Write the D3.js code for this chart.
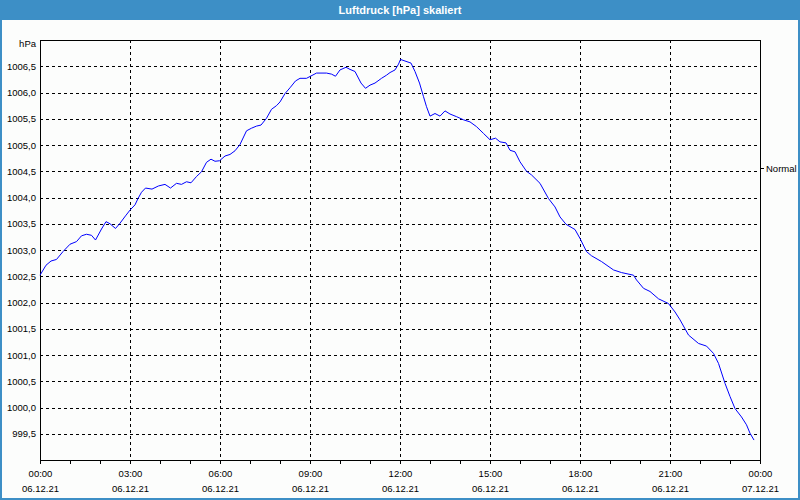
<!DOCTYPE html>
<html>
<head>
<meta charset="utf-8">
<script src="https://cdn.jsdelivr.net/npm/d3@7"></script>
<style>
  html, body { margin: 0; padding: 0; background: #fcfdfc; }
  svg { display: block; }
  text { font-family: "Liberation Sans", Arial, sans-serif; }
</style>
</head>
<body>
<svg id="chart" width="800" height="500"></svg>
<script>
// ---- Data ----
const chartTitle = "Luftdruck [hPa] skaliert";
const unitLabel = "hPa";
const seriesName = "Normal";
const day = "2021-12-06";
const times = ["00:00","00:12","00:22","00:33","00:46","01:00","01:13","01:23","01:33","01:43","01:51","02:03","02:12","02:20","02:31","02:40","02:51","03:00","03:10","03:16","03:23","03:31","03:44","03:57","04:10","04:21","04:33","04:43","04:53","05:02","05:13","05:23","05:33","05:42","05:50","05:59","06:10","06:20","06:30","06:40","06:53","07:03","07:13","07:22","07:33","07:43","07:53","08:00","08:10","08:20","08:31","08:40","08:53","09:13","09:33","09:43","09:51","10:00","10:12","10:20","10:30","10:42","10:51","11:00","11:10","11:23","11:33","11:40","11:50","11:57","12:01","12:10","12:22","12:30","12:39","12:47","12:53","13:00","13:10","13:20","13:30","13:40","13:53","14:07","14:20","14:33","14:47","15:00","15:11","15:20","15:32","15:40","15:50","16:00","16:13","16:23","16:40","16:57","17:10","17:20","17:32","17:50","18:00","18:13","18:23","18:43","19:07","19:23","19:47","19:53","20:07","20:20","20:37","20:57","21:10","21:20","21:37","21:57","22:13","22:27","22:37","22:50","23:00","23:10","23:23","23:33","23:40","23:48"];
const pressure = [1002.52,1002.71,1002.79,1002.82,1002.97,1003.11,1003.16,1003.27,1003.30,1003.28,1003.19,1003.40,1003.54,1003.50,1003.41,1003.51,1003.65,1003.76,1003.86,1003.98,1004.10,1004.18,1004.16,1004.22,1004.25,1004.18,1004.27,1004.25,1004.30,1004.28,1004.40,1004.49,1004.67,1004.73,1004.69,1004.70,1004.79,1004.82,1004.89,1005.01,1005.27,1005.32,1005.36,1005.38,1005.51,1005.68,1005.75,1005.82,1005.98,1006.09,1006.22,1006.27,1006.27,1006.37,1006.37,1006.35,1006.31,1006.43,1006.48,1006.44,1006.40,1006.18,1006.08,1006.14,1006.18,1006.27,1006.33,1006.38,1006.43,1006.54,1006.63,1006.60,1006.56,1006.40,1006.18,1005.92,1005.73,1005.55,1005.60,1005.55,1005.65,1005.59,1005.54,1005.48,1005.44,1005.35,1005.22,1005.10,1005.13,1005.06,1005.04,1004.90,1004.87,1004.68,1004.50,1004.43,1004.27,1003.98,1003.82,1003.63,1003.49,1003.39,1003.22,1002.97,1002.89,1002.78,1002.62,1002.57,1002.52,1002.43,1002.27,1002.21,1002.07,1001.98,1001.82,1001.67,1001.38,1001.22,1001.17,1001.03,1000.84,1000.46,1000.21,999.98,999.82,999.67,999.51,999.38];
const yTicks = [999.5,1000.0,1000.5,1001.0,1001.5,1002.0,1002.5,1003.0,1003.5,1004.0,1004.5,1005.0,1005.5,1006.0,1006.5];
const yDomain = [999.0, 1007.0];
const xDomain = ["2021-12-06T00:00", "2021-12-07T00:00"];

// ---- Layout ----
const W = 800, H = 500;
const M = {left: 40, right: 760, top: 40, bottom: 460};
const blue = "#3d8fc6";

const svg = d3.select("#chart");
const parse = d3.timeParse("%Y-%m-%dT%H:%M");
const data = times.map((t, i) => ({t: parse(day + "T" + t), v: pressure[i]}));

const x = d3.scaleTime().domain(xDomain.map(parse)).range([M.left, M.right]);
const y = d3.scaleLinear().domain(yDomain).range([M.bottom, M.top]);

const deLocale = d3.formatLocale({decimal: ",", thousands: ".", grouping: [3], currency: ["", " €"]});
const yFmt = deLocale.format(".1f");

// window frame
svg.append("rect").attr("x", 0).attr("y", 0).attr("width", W).attr("height", H).attr("fill", blue);
svg.append("rect").attr("x", 2).attr("y", 20).attr("width", W - 4).attr("height", H - 22).attr("fill", "#fcfdfc");
svg.append("text").attr("x", W / 2).attr("y", 14).attr("text-anchor", "middle")
  .attr("fill", "#fff").attr("font-weight", "bold").attr("font-size", "11px").text(chartTitle);

// horizontal grid
const g = svg.append("g");
g.selectAll("line.hg").data(yTicks).join("line").attr("class", "hg")
  .attr("x1", M.left).attr("x2", M.right)
  .attr("y1", d => Math.round(y(d)) + 0.5).attr("y2", d => Math.round(y(d)) + 0.5)
  .attr("stroke", "#000").attr("stroke-dasharray", "3,3").attr("shape-rendering", "crispEdges");

// vertical grid every 3 hours
const xMajor = x.ticks(d3.timeHour.every(3));
g.selectAll("line.vg").data(xMajor.slice(1, -1)).join("line").attr("class", "vg")
  .attr("y1", M.top).attr("y2", M.bottom)
  .attr("x1", d => Math.round(x(d)) + 0.5).attr("x2", d => Math.round(x(d)) + 0.5)
  .attr("stroke", "#000").attr("stroke-dasharray", "3,3").attr("shape-rendering", "crispEdges");

// frame
svg.append("rect").attr("x", M.left + 0.5).attr("y", M.top + 0.5)
  .attr("width", M.right - M.left).attr("height", M.bottom - M.top)
  .attr("fill", "none").attr("stroke", "#000").attr("shape-rendering", "crispEdges");

// x axis minor ticks (hourly)
const xMinor = x.ticks(d3.timeHour.every(1));
svg.append("g").selectAll("line").data(xMinor).join("line")
  .attr("x1", d => Math.round(x(d)) + 0.5).attr("x2", d => Math.round(x(d)) + 0.5)
  .attr("y1", M.bottom).attr("y2", M.bottom + 4)
  .attr("stroke", "#000").attr("shape-rendering", "crispEdges");

// x labels
const fmtT = d3.timeFormat("%H:%M"), fmtD = d3.timeFormat("%d.%m.%y");
const xl = svg.append("g").attr("font-size", "9.5px").attr("fill", "#000").attr("text-anchor", "middle");
xl.selectAll("text.t").data(xMajor).join("text").attr("class", "t")
  .attr("x", d => x(d) + 0.5).attr("y", 477).text(fmtT);
xl.selectAll("text.d").data(xMajor).join("text").attr("class", "d")
  .attr("x", d => x(d) + 0.5).attr("y", 492).text(fmtD);

// y labels
const yl = svg.append("g").attr("font-size", "9.5px").attr("fill", "#000").attr("text-anchor", "end");
yl.selectAll("text").data(yTicks).join("text")
  .attr("x", 36).attr("y", d => y(d) + 3.5).text(yFmt);
yl.append("text").attr("x", 36).attr("y", 47).text(unitLabel);

// legend entry on right
svg.append("line").attr("x1", M.right).attr("x2", M.right + 4).attr("y1", 168.5).attr("y2", 168.5)
  .attr("stroke", "#000").attr("shape-rendering", "crispEdges");
svg.append("text").attr("x", 766).attr("y", 171.5).attr("font-size", "9.5px").attr("fill", "#000").text(seriesName);

// series line
const line = d3.line().x(d => x(d.t)).y(d => y(d.v));
svg.append("path").datum(data).attr("d", line)
  .attr("fill", "none").attr("stroke", "#0000ff").attr("stroke-width", 1);
</script>
</body>
</html>
